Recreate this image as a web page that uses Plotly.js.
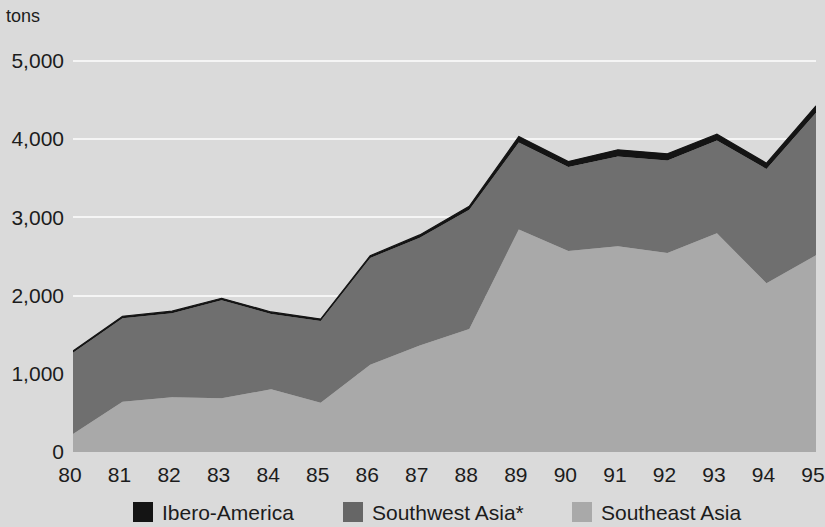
<!DOCTYPE html>
<html>
<head>
<meta charset="utf-8">
<script src="https://cdn.plot.ly/plotly-3.0.1.min.js"></script>
<style>
  html, body { margin: 0; padding: 0; background: #dadada; }
  #chart { width: 825px; height: 527px; }
</style>
</head>
<body>
<div id="chart"></div>
<script>
// ---- Data (tons) ----
const years = [80, 81, 82, 83, 84, 85, 86, 87, 88, 89, 90, 91, 92, 93, 94, 95];
const southeastAsia = [230, 643, 699, 686, 801, 631, 1115, 1360, 1573, 2845, 2570, 2630, 2545, 2795, 2157, 2515];
const southwestAsia = [1040, 1067, 1076, 1254, 964, 1044, 1365, 1380, 1522, 1112, 1072, 1147, 1181, 1188, 1460, 1820];
const iberoAmerica = [20, 25, 25, 25, 25, 25, 30, 35, 45, 75, 70, 85, 85, 80, 75, 90];
const seriesNames = ["Ibero-America", "Southwest Asia*", "Southeast Asia"];
const yTickVals = [0, 1000, 2000, 3000, 4000, 5000];
const yTickText = ["0", "1,000", "2,000", "3,000", "4,000", "5,000"];
const unitLabel = "tons";

// ---- Styles ----
const colIbero = "#141414";
const colSW = "#6f6f6f";
const colSE = "#a9a9a9";
const textCol = "#1c1c1c";
const FONT = "'Liberation Sans', Arial, Helvetica, sans-serif";
const FS = 21;

const W = 825, H = 527;
const M = { l: 73, r: 9, t: 53, b: 75 };
const plotW = W - M.l - M.r, plotH = H - M.t - M.b;
const px = x => (x - M.l) / plotW;     // pixel -> paper x
const py = y => (H - M.b - y) / plotH; // pixel -> paper y

const traces = [
  { x: years, y: southeastAsia, name: seriesNames[2], type: "scatter", mode: "lines",
    stackgroup: "one", fillcolor: colSE, line: { width: 0, color: colSE }, showlegend: false },
  { x: years, y: southwestAsia, name: seriesNames[1], type: "scatter", mode: "lines",
    stackgroup: "one", fillcolor: colSW, line: { width: 0, color: colSW }, showlegend: false },
  { x: years, y: iberoAmerica, name: seriesNames[0], type: "scatter", mode: "lines",
    stackgroup: "one", fillcolor: colIbero, line: { width: 1.2, color: colIbero }, showlegend: false }
];

// legend drawn as shapes + annotations
const legendItems = [
  { sx: 133, tx: 160, color: colIbero, label: seriesNames[0] },
  { sx: 343, tx: 370, color: "#666666", label: seriesNames[1] },
  { sx: 572, tx: 599, color: colSE, label: seriesNames[2] }
];
const shapes = legendItems.map(it => ({
  type: "rect", xref: "paper", yref: "paper",
  x0: px(it.sx), x1: px(it.sx + 20), y0: py(522), y1: py(502),
  fillcolor: it.color, line: { width: 0 }, layer: "above"
}));
const annotations = legendItems.map(it => ({
  xref: "paper", yref: "paper", x: px(it.tx), y: py(512),
  xanchor: "left", yanchor: "middle", showarrow: false,
  text: it.label, font: { family: FONT, size: FS, color: textCol }
}));
annotations.push({
  xref: "paper", yref: "paper", x: px(4), y: py(16),
  xanchor: "left", yanchor: "middle", showarrow: false,
  text: unitLabel, font: { family: FONT, size: 18, color: textCol }
});

const layout = {
  width: W, height: H,
  margin: M,
  paper_bgcolor: "#dadada",
  plot_bgcolor: "#dadada",
  showlegend: false,
  font: { family: FONT, size: FS, color: textCol },
  xaxis: {
    range: [80, 95], tickmode: "array", tickvals: years, ticktext: years.map(String),
    showgrid: false, zeroline: false, showline: false, ticks: "", fixedrange: true,
    ticklabeloverflow: "allow", ticklabelshift: -3, ticklabelstandoff: 8,
    tickfont: { family: FONT, size: FS, color: textCol }
  },
  yaxis: {
    range: [0, 5100], tickmode: "array", tickvals: yTickVals, ticktext: yTickText,
    showgrid: true, gridcolor: "#f5f5f5", gridwidth: 2, zeroline: false, showline: false,
    ticks: "", ticklabelstandoff: 8, fixedrange: true,
    tickfont: { family: FONT, size: FS, color: textCol }
  },
  shapes: shapes,
  annotations: annotations
};

Plotly.newPlot("chart", traces, layout, { displayModeBar: false, staticPlot: true });
</script>
</body>
</html>
